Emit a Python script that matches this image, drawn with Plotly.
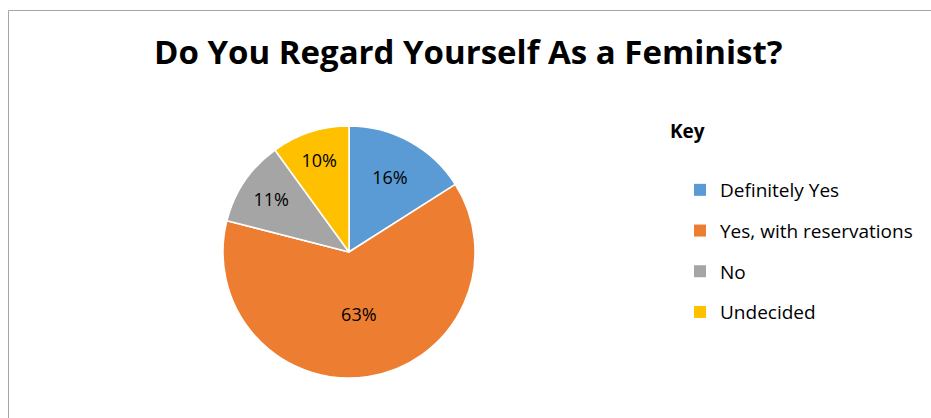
import plotly.graph_objects as go

title = "Do You Regard Yourself As a Feminist?"
categories = ["Definitely Yes", "Yes, with reservations", "No", "Undecided"]
values = [16, 63, 11, 10]
colors = ["#5B9BD5", "#ED7D31", "#A5A5A5", "#FFC000"]
legend_title = "Key"

W, H = 931, 418
FONT = "Open Sans, sans-serif"

fig = go.Figure()
fig.add_trace(go.Pie(
    labels=categories, values=values, sort=False, direction="clockwise", rotation=0,
    marker=dict(colors=colors, line=dict(color="white", width=1.5)),
    textinfo="percent", textposition="inside", insidetextorientation="horizontal",
    textfont=dict(color="#000000", size=18, family=FONT),
    domain=dict(x=[223 / W, 475 / W], y=[1 - 378 / H, 1 - 126 / H]),
    showlegend=False, hoverinfo="label+percent",
))
for i, (c, col) in enumerate(zip(categories, colors)):
    fig.add_trace(go.Scatter(
        x=[None], y=[None], mode="markers", name=c, legendgroup=str(i),
        marker=dict(symbol="square", size=12, color=col),
    ))

fig.update_layout(
    width=W, height=H, margin=dict(l=0, r=0, t=0, b=0),
    paper_bgcolor="white", plot_bgcolor="white",
    xaxis=dict(visible=False), yaxis=dict(visible=False),
    title=dict(text="<b>" + title + "</b>", x=0.503, xanchor="center", y=1 - 52 / H, yanchor="middle",
               font=dict(family=FONT, size=33, color="#000000")),
    legend=dict(x=680 / W, xanchor="left", y=1 - 171 / H, yanchor="top",
                font=dict(family=FONT, size=19, color="#000000"), tracegroupgap=13,
                bgcolor="rgba(0,0,0,0)"),
    annotations=[dict(text="<b>" + legend_title + "</b>", x=668 / W, y=1 - 131 / H, xref="paper", yref="paper",
                      xanchor="left", yanchor="middle", showarrow=False,
                      font=dict(family=FONT, size=19, color="#000000"))],
    shapes=[
        dict(type="line", xref="paper", yref="paper", x0=8.5 / W, x1=8.5 / W, y0=-0.1, y1=1 - 10.5 / H,
             line=dict(color="#A6A6A6", width=1)),
        dict(type="line", xref="paper", yref="paper", x0=8.5 / W, x1=1.1, y0=1 - 10.5 / H, y1=1 - 10.5 / H,
             line=dict(color="#A6A6A6", width=1)),
    ],
)
fig.write_html("out.html")
